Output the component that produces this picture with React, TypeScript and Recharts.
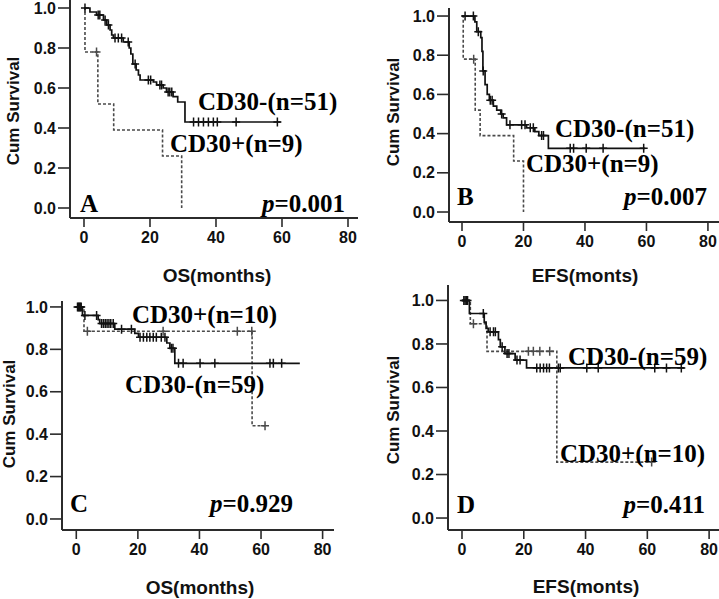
import { ComposedChart, Line, Scatter, XAxis, YAxis } from "recharts";

type Step = [number, number];

// Kaplan-Meier step points: [months, cumulative survival]
// A: OS, 60 patients
const osNegA: Step[] = [
  [0, 1], [1.8, 0.98], [3.8, 0.965], [5.9, 0.94], [6.9, 0.915], [7.9, 0.89], [8.4, 0.865],
  [8.9, 0.85], [11.9, 0.83], [13.7, 0.8], [14.2, 0.77], [14.8, 0.72], [15.8, 0.69],
  [16.5, 0.665], [17, 0.64], [21, 0.63], [22, 0.615], [24, 0.6], [25, 0.58], [27, 0.557],
  [28.4, 0.53], [30.6, 0.43], [59.6, 0.43],
];
const osNegACens = [0.3, 4.3, 4.8, 6.4, 7.4, 9.4, 10.4, 11.4, 13.4, 15.5, 19.5, 20.2, 23, 23.5, 25.5, 26, 26.6, 33.2, 34.7, 36.2, 37.7, 39.2, 40.4, 46.1, 58.6];
const osPosA: Step[] = [[0, 1], [0.3, 0.78], [4.2, 0.52], [9.0, 0.39], [23.8, 0.26], [29.6, 0]];
const osPosACens = [3.8];

// B: EFS, 60 patients
const efsNegB: Step[] = [
  [0, 1], [4.2, 0.97], [4.8, 0.92], [6.1, 0.89], [6.5, 0.82], [6.8, 0.72], [7.5, 0.65],
  [8.2, 0.6], [8.9, 0.57], [10.2, 0.54], [11.3, 0.52], [12.6, 0.5], [13.4, 0.48],
  [14.5, 0.445], [21, 0.43], [23.7, 0.41], [25, 0.39], [28.1, 0.325], [59.6, 0.325],
];
const efsNegBCens = [1.0, 3.7, 5.3, 6.9, 9.2, 9.8, 12.9, 15.6, 19.4, 20.5, 22.2, 23.2, 25.9, 26.5, 35.2, 36.3, 40.4, 45.9, 59.1];
const efsPosB: Step[] = [[0, 1], [0.4, 0.78], [4.3, 0.52], [5.9, 0.39], [16.8, 0.26], [20, 0]];
const efsPosBCens = [3.8];

// C: OS, 69 patients
const osNegC: Step[] = [
  [0, 1], [2.0, 0.96], [7.1, 0.94], [7.6, 0.922], [12.5, 0.895], [19, 0.875], [20.2, 0.857],
  [29.4, 0.83], [30.4, 0.805], [32, 0.734], [72.6, 0.734],
];
const osNegCCens = [0.4, 0.7, 1.0, 1.3, 1.6, 2.8, 6.6, 8.2, 8.8, 9.4, 10, 10.6, 11.2, 12, 14.7, 17.9, 20.7, 21.8, 22.9, 23.9, 25, 26, 27.6, 28.8, 30.9, 31.4, 33.2, 34.7, 40.2, 45, 62.9, 64, 66.7];
const osPosC: Step[] = [[0, 1], [2.5, 0.885], [57.1, 0.44], [61.3, 0.44]];
const osPosCCens = [3.6, 28.2, 52.3, 57.0, 61.3];

// D: EFS, 69 patients
const efsNegD: Step[] = [
  [0, 1], [2.4, 0.94], [7.2, 0.9], [7.8, 0.872], [8.5, 0.856], [11.8, 0.82], [12.4, 0.787],
  [13.9, 0.756], [17.2, 0.726], [20.9, 0.69], [72, 0.69],
];
const efsNegDCens = [0.6, 1.0, 1.4, 1.8, 6.9, 9.1, 10.2, 10.8, 13.0, 14.6, 15.2, 17.8, 18.8, 24.2, 25.3, 26.4, 27.4, 28.3, 31.2, 31.8, 40.4, 44.1, 62.4, 66.2, 71];
const efsPosD: Step[] = [[0, 1], [2.7, 0.893], [8.1, 0.766], [30.7, 0.257], [61.4, 0.257]];
const efsPosDCens = [3.7, 21.5, 23.1, 25.2, 28.4, 61.4];

const yTicks = [0, 0.2, 0.4, 0.6, 0.8, 1.0];
const xTicks = [0, 20, 40, 60, 80];

const SANS = "'Liberation Sans', Arial, sans-serif";
const SERIF = "'Liberation Serif', 'Times New Roman', serif";
const AXIS = "#2b2b2b";
const SOLID = "#111";
const DASHED = "#4a4a4a";

const toPts = (steps: Step[]) => steps.map(([t, s]) => ({ t, s }));

// a censored case sits on the curve at its time
const censorPts = (steps: Step[], times: number[]) =>
  times.map((t) => {
    let s = steps[0][1];
    for (const [st, sv] of steps) if (st <= t) s = sv;
    return { t, s };
  });

const plus = (color: string) => (p: any) => (
  <path
    d={`M${p.cx - 4},${p.cy}H${p.cx + 4}M${p.cx},${p.cy - 4.5}V${p.cy + 4.5}`}
    stroke={color}
    strokeWidth={1.5}
    fill="none"
  />
);

const panels = [
  { id: "A", left: 0, top: 0, width: 360, height: 300, yAxisW: 70, mTop: 0, mRight: 2, xAxisH: 82, xDom: [-4.24, 83.03], yDom: [-0.05, 1.04], neg: osNegA, negCens: osNegACens, pos: osPosA, posCens: osPosACens },
  { id: "B", left: 360, top: 0, width: 359, height: 300, yAxisW: 89, mTop: 8, mRight: 0, xAxisH: 78, xDom: [-4.23, 83.6], yDom: [-0.051, 1.041], neg: efsNegB, negCens: efsNegBCens, pos: efsPosB, posCens: efsPosBCens },
  { id: "C", left: 0, top: 290, width: 360, height: 309, yAxisW: 62, mTop: 11, mRight: 26, xAxisH: 69, xDom: [-4.64, 83.7], yDom: [-0.052, 1.028], neg: osNegC, negCens: osNegCCens, pos: osPosC, posCens: osPosCCens },
  { id: "D", left: 360, top: 285, width: 359, height: 314, yAxisW: 88, mTop: 0, mRight: 0, xAxisH: 69, xDom: [-4.53, 83.2], yDom: [-0.055, 1.071], neg: efsNegD, negCens: efsNegDCens, pos: efsPosD, posCens: efsPosDCens },
];

const groupLabels = [
  { text: "CD30-(n=51)", x: 198, y: 110 },
  { text: "CD30+(n=9)", x: 170, y: 152 },
  { text: "CD30-(n=51)", x: 555, y: 137 },
  { text: "CD30+(n=9)", x: 526, y: 172 },
  { text: "CD30+(n=10)", x: 132, y: 323 },
  { text: "CD30-(n=59)", x: 125, y: 393 },
  { text: "CD30-(n=59)", x: 568, y: 365 },
  { text: "CD30+(n=10)", x: 560, y: 462 },
];
const panelLetters = [
  { text: "A", x: 80, y: 212 },
  { text: "B", x: 457, y: 205 },
  { text: "C", x: 70, y: 512 },
  { text: "D", x: 457, y: 513 },
];
const pValues = [
  { value: "0.001", x: 345, y: 212, anchor: "end" },
  { value: "0.007", x: 707, y: 205, anchor: "end" },
  { value: "0.929", x: 210, y: 512, anchor: "start" },
  { value: "0.411", x: 705, y: 513, anchor: "end" },
];
const xTitles = [
  { text: "OS(months)", x: 217, y: 275 },
  { text: "EFS(monts)", x: 585, y: 275 },
  { text: "OS(months)", x: 200, y: 587 },
  { text: "EFS(monts)", x: 586, y: 586 },
];
const yTitles = [
  { x: 13, y: 111 },
  { x: 393, y: 112 },
  { x: 9, y: 414 },
  { x: 393, y: 410 },
];

const tickStyle = { fontSize: 16, fontWeight: 700, fill: "#111", fontFamily: SANS };

function KMPanel({ cfg }: { cfg: (typeof panels)[number] }) {
  return (
    <div style={{ position: "absolute", left: cfg.left, top: cfg.top }}>
      <ComposedChart
        width={cfg.width}
        height={cfg.height}
        margin={{ top: cfg.mTop, right: cfg.mRight, bottom: 0, left: 0 }}
      >
        <XAxis
          type="number"
          dataKey="t"
          domain={cfg.xDom}
          allowDataOverflow
          ticks={xTicks}
          interval={0}
          height={cfg.xAxisH}
          tickSize={9}
          tickMargin={5}
          axisLine={{ stroke: AXIS, strokeWidth: 2 }}
          tickLine={{ stroke: AXIS, strokeWidth: 1.6 }}
          tick={tickStyle}
        />
        <YAxis
          type="number"
          dataKey="s"
          domain={cfg.yDom}
          allowDataOverflow
          ticks={yTicks}
          interval={0}
          width={cfg.yAxisW}
          tickSize={12}
          tickMargin={2}
          tickFormatter={(v: number) => v.toFixed(1)}
          axisLine={{ stroke: AXIS, strokeWidth: 2 }}
          tickLine={{ stroke: AXIS, strokeWidth: 1.6 }}
          tick={tickStyle}
        />
        <Line data={toPts(cfg.pos)} dataKey="s" type="stepAfter" stroke={DASHED} strokeWidth={1.6} strokeDasharray="3 2" dot={false} isAnimationActive={false} />
        <Line data={toPts(cfg.neg)} dataKey="s" type="stepAfter" stroke={SOLID} strokeWidth={1.7} dot={false} isAnimationActive={false} />
        <Scatter data={censorPts(cfg.pos, cfg.posCens)} dataKey="s" shape={plus(DASHED)} isAnimationActive={false} />
        <Scatter data={censorPts(cfg.neg, cfg.negCens)} dataKey="s" shape={plus(SOLID)} isAnimationActive={false} />
      </ComposedChart>
    </div>
  );
}

export default function App() {
  return (
    <div style={{ position: "absolute", left: 0, top: 0, width: 719, height: 599, background: "#fff", overflow: "hidden" }}>
      {panels.map((cfg) => (
        <KMPanel key={cfg.id} cfg={cfg} />
      ))}
      <svg width={719} height={599} style={{ position: "absolute", left: 0, top: 0, pointerEvents: "none" }}>
        {groupLabels.map((g, i) => (
          <text key={"g" + i} x={g.x} y={g.y} fontFamily={SERIF} fontWeight={700} fontSize={25} fill="#000">
            {g.text}
          </text>
        ))}
        {panelLetters.map((l) => (
          <text key={l.text} x={l.x} y={l.y} fontFamily={SERIF} fontWeight={700} fontSize={25} fill="#000">
            {l.text}
          </text>
        ))}
        {pValues.map((p, i) => (
          <text key={"p" + i} x={p.x} y={p.y} textAnchor={p.anchor as any} fontFamily={SERIF} fontWeight={700} fontSize={25} fill="#000">
            <tspan fontStyle="italic">p</tspan>={p.value}
          </text>
        ))}
        {xTitles.map((t, i) => (
          <text key={"x" + i} x={t.x} y={t.y} textAnchor="middle" dominantBaseline="central" fontFamily={SANS} fontWeight={700} fontSize={19} fill="#111">
            {t.text}
          </text>
        ))}
        {yTitles.map((t, i) => (
          <text key={"y" + i} x={t.x} y={t.y} textAnchor="middle" dominantBaseline="central" transform={`rotate(-90 ${t.x} ${t.y})`} fontFamily={SANS} fontWeight={700} fontSize={17} fill="#111">
            Cum Survival
          </text>
        ))}
      </svg>
    </div>
  );
}
